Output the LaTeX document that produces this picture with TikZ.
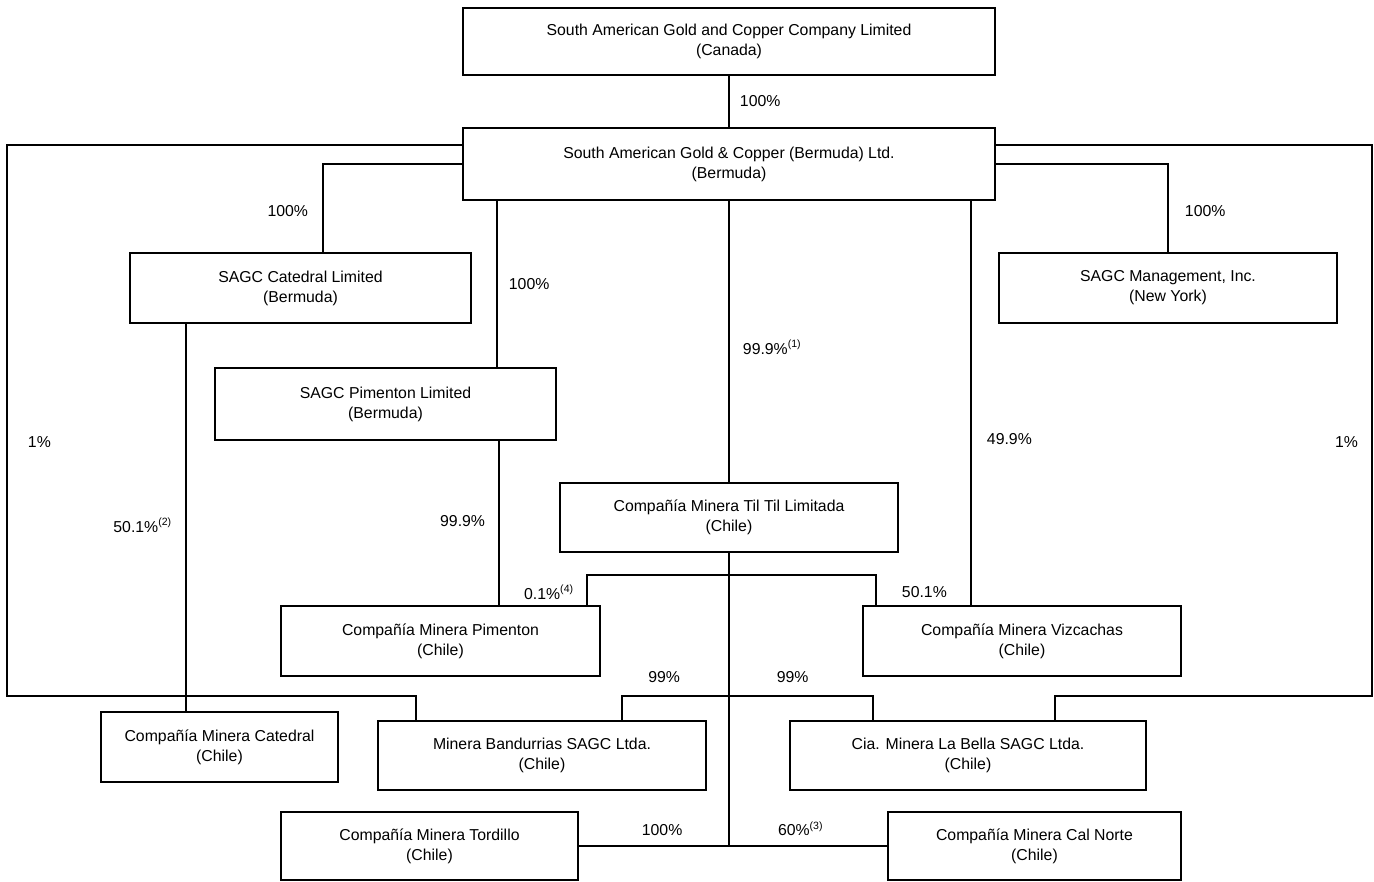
\documentclass[tikz,border=0pt]{standalone}
\usepackage{fontspec}
\setmainfont{Liberation Sans}
\usepackage{tikz}
\usetikzlibrary{positioning}

\newcommand{\fnote}[1]{\textsuperscript{\fontsize{6}{6}\selectfont(#1)}}

\begin{document}
\begin{tikzpicture}[x=0.02cm,y=-0.02cm,line width=1.1pt,font=\fontsize{9}{11.3}\selectfont,
	box/.style={draw,align=center,minimum height=1.4cm,inner sep=0pt},
	lab/.style={inner sep=0pt}]
			\useasboundingbox (0,0) rectangle (1374,882);

			%parent nodes
			\node [box,minimum width=10.64cm,minimum height=1.34cm] (sagc) at (729,41.5) {South American Gold and Copper Company Limited\\(Canada)};
			\node [box,minimum width=10.64cm,minimum height=1.44cm] (bermuda) at (729,164) {South American Gold \& Copper (Bermuda) Ltd.\\(Bermuda)};

			%holding nodes
			\node [box,minimum width=6.82cm] (catedralltd) at (300.5,288) {SAGC Catedral Limited\\(Bermuda)};
			\node [box,minimum width=6.76cm] (mgmt) at (1168,288) {SAGC Management, Inc.\\(New York)};
			\node [box,minimum width=6.82cm,minimum height=1.44cm] (pimentonltd) at (385.5,404) {SAGC Pimenton Limited\\(Bermuda)};
			\node [box,minimum width=6.76cm,minimum height=1.38cm] (tiltil) at (729,517.5) {Compañía Minera Til Til Limitada\\(Chile)};

			%chilean nodes
			\node [box,minimum width=6.38cm] (pimenton) at (440.5,641) {Compañía Minera Pimenton\\(Chile)};
			\node [box,minimum width=6.36cm] (vizcachas) at (1022,641) {Compañía Minera Vizcachas\\(Chile)};
			\node [box,minimum width=4.74cm] (catedral) at (219.5,747) {Compañía Minera Catedral\\(Chile)};
			\node [box,minimum width=6.56cm,minimum height=1.38cm] (bandurrias) at (542,755.5) {Minera Bandurrias SAGC Ltda.\\(Chile)};
			\node [box,minimum width=7.12cm,minimum height=1.38cm] (labella) at (968,755.5) {Cia. Minera La Bella SAGC Ltda.\\(Chile)};
			\node [box,minimum width=5.94cm,minimum height=1.36cm] (tordillo) at (429.5,846) {Compañía Minera Tordillo\\(Chile)};
			\node [box,minimum width=5.86cm,minimum height=1.36cm] (calnorte) at (1034.5,846) {Compañía Minera Cal Norte\\(Chile)};

			%frame corners
			\coordinate (fsw) at (7,696);
			\coordinate (fse) at (1372,696);

			%edges
			\draw (sagc.south) -- node[lab,right=0.2cm] {100\%} (bermuda.north);
			\draw (bermuda.west) -| node[lab,left=0.28cm,pos=0.77] {100\%} ([xshift=0.45cm]catedralltd.north);
			\draw (bermuda.east) -| node[lab,right=0.32cm,pos=0.77] {100\%} (mgmt.north);
			\draw ([xshift=2.23cm]pimentonltd.north |- bermuda.south) -- node[lab,right=0.22cm] {100\%} ([xshift=2.23cm]pimentonltd.north);
			\draw (bermuda.south) -- node[lab,right=0.26cm,pos=0.52] {99.9\%\fnote{1}} (tiltil.north);
			\draw ([xshift=-1.02cm]vizcachas.north |- bermuda.south) -- node[lab,right=0.3cm,pos=0.59] {49.9\%} ([xshift=-1.02cm]vizcachas.north);
			\draw ([xshift=1.17cm]pimenton.north |- pimentonltd.south) -- node[lab,left=0.26cm,pos=0.49] {99.9\%} ([xshift=1.17cm]pimenton.north);
			\draw ([xshift=-0.67cm]catedral.north |- catedralltd.south) -- node[lab,left=0.26cm,pos=0.52] {50.1\%\fnote{2}} ([xshift=-0.67cm]catedral.north);

			%til til edges
			\draw (tiltil.south) -- (tiltil.south |- tordillo.east);
			\draw ([xshift=2.93cm]pimenton.north) -- node[lab,left=0.24cm,pos=0.43] {0.1\%\fnote{4}} ++(0,-30) -| node[lab,right=0.5cm,pos=0.78] {50.1\%} ([xshift=-2.92cm]vizcachas.north);
			\draw ([xshift=1.6cm]bandurrias.north) -- ++(0,-24) -| node[lab,above=0.24cm,pos=0.084] {99\%} node[lab,above=0.24cm,pos=0.34] {99\%} ([xshift=-1.9cm]labella.north);
			\draw (tordillo.east) -- node[lab,above=0.18cm,pos=0.27] {100\%} node[lab,above=0.18cm,pos=0.72] {60\%\fnote{3}} (calnorte.west);

			%frame edges
			\draw ([yshift=0.38cm]bermuda.west) -| node[lab,right=0.4cm,pos=0.77] {1\%} (fsw) -| ([xshift=-2.52cm]bandurrias.north);
			\draw ([yshift=0.38cm]bermuda.east) -| node[lab,left=0.26cm,pos=0.77] {1\%} (fse) -| ([xshift=1.74cm]labella.north);
		\end{tikzpicture}
\end{document}
